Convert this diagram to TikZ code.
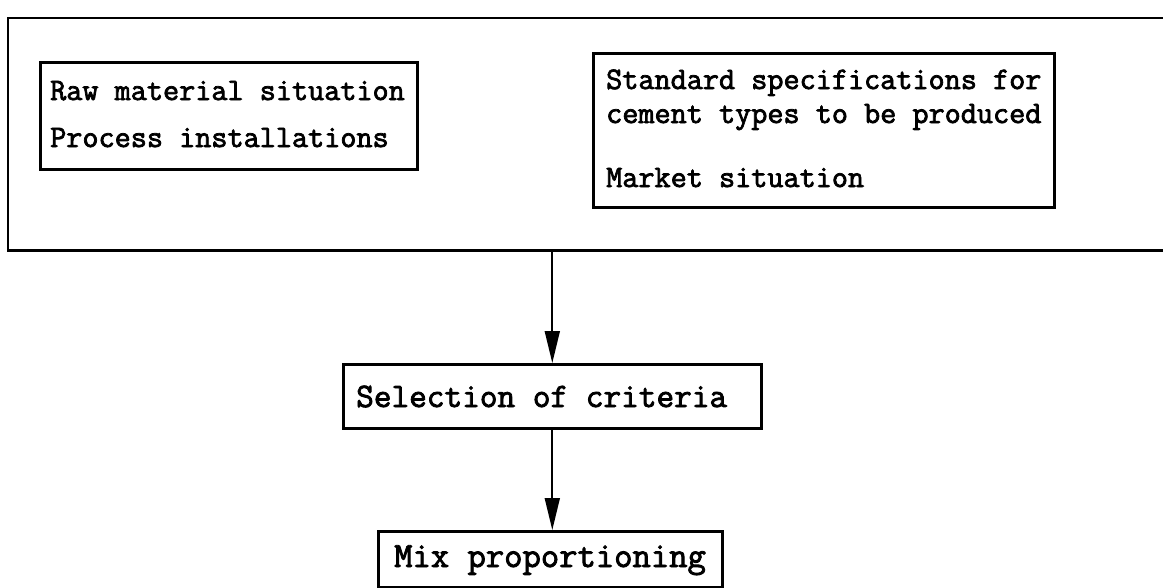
\documentclass[tikz,border=0pt]{standalone}
\usepackage{fontspec}
\newfontfamily\cour{Latin Modern Mono}[FakeBold=2.4]
\usetikzlibrary{arrows.meta}
\tikzset{
  boxnode/.style={draw, line width=2.6pt, inner sep=0pt, anchor=north west},
  txt/.style={font=\cour\bfseries\fontsize{31.3}{34}\selectfont, anchor=base west, inner sep=0pt},
  bigtxt/.style={font=\cour\bfseries\fontsize{34.3}{37}\selectfont, anchor=base west, inner sep=0pt},
  hugetxt/.style={font=\cour\bfseries\fontsize{35.6}{38}\selectfont, anchor=base west, inner sep=0pt},
  flow/.style={line width=1.8pt, -{Triangle[length=32pt,width=15pt]}},
}
\begin{document}
\begin{tikzpicture}[x=1pt,y=-1pt]
\useasboundingbox (0,0) rectangle (1163,587);
% outer frame (open to the right)
\node[inner sep=0pt, anchor=north west, minimum width=1165pt, minimum height=232pt] (outer) at (8,18) {};
\draw[line width=2.8pt] (outer.north east) -- (outer.north west) -- (outer.south west) -- (outer.south east);
% left inner box
\node[boxnode, minimum width=377pt, minimum height=107pt] (raw) at (39,61) {};
\node[txt] (t1) at (50,100) {Raw material situation};
\node[txt] (t2) at (50,147) {Process installations};
% right inner box
\node[boxnode, minimum width=461pt, minimum height=154pt] (std) at (592,52) {};
\node[txt] (t3) at (606,89) {Standard specifications for};
\node[txt] (t4) at (606,123) {cement types to be produced};
\node[txt] (t5) at (606,187) {Market situation};
% selection
\node[boxnode, minimum width=418pt, minimum height=64pt] (sel) at (342,363) {};
\node[bigtxt] (t6) at (356,407) {Selection of criteria};
% mix
\node[boxnode, minimum width=344pt, minimum height=56pt] (mix) at (377,530) {};
\node[hugetxt] (t7) at (394,567) {Mix proportioning};
% connectors
\draw[flow] (outer.south -| sel.north) -- (sel.north);
\draw[flow] (sel.south) -- (sel.south |- mix.north);
\end{tikzpicture}
\end{document}
